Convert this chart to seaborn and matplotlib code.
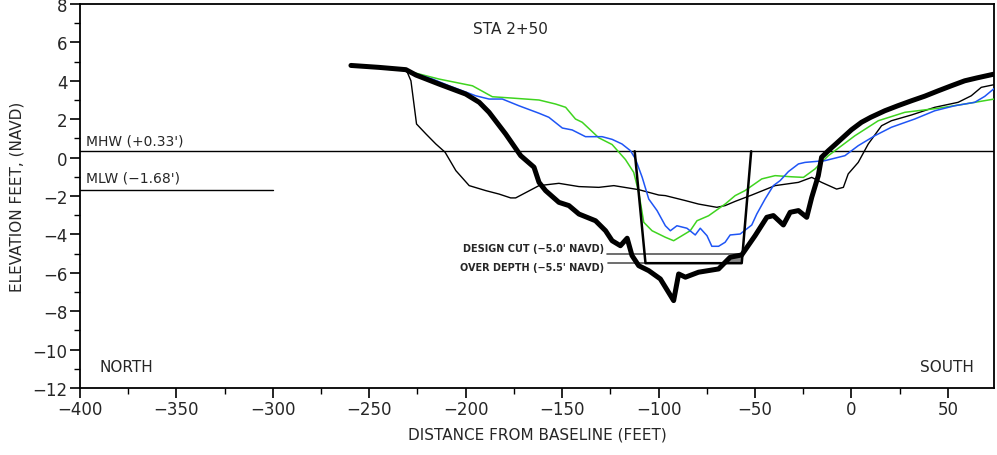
import matplotlib
matplotlib.use("Agg")
import matplotlib.pyplot as plt
import seaborn as sns
import pandas as pd
from matplotlib.ticker import MultipleLocator

# ---------------- data ----------------
# Current survey (thick black)
cur_x = [-259.5, -245, -231, -225.8, -213.8, -200, -193, -187.9, -179.3, -171.5, -164.6, -162, -158.6,
         -151.7, -146.5, -141.3, -132.7, -127.5, -124.1, -119.8, -116.3, -113.8, -110.3, -105.1,
         -99.1, -92.2, -89.6, -86.1, -79.3, -68.9, -62.9, -56.9, -50, -43.9, -40.5, -35.3, -31.8,
         -27.5, -23.2, -20.6, -17.2, -15.5, -12, -8, -3.4, 0, 5.2, 10, 17.3, 24, 31.1, 38, 45,
         52, 58.7, 65, 74]
cur_y = [4.8, 4.7, 4.58, 4.3, 3.83, 3.31, 2.88, 2.36, 1.23, 0.1, -0.5, -1.29, -1.72,
         -2.33, -2.5, -2.94, -3.29, -3.81, -4.33, -4.59, -4.2, -5.1, -5.63, -5.89,
         -6.32, -7.45, -6.06, -6.23, -5.97, -5.8, -5.19, -5.07, -4.07, -3.11, -3.02, -3.51, -2.85,
         -2.76, -3.11, -2.07, -0.94, 0.02, 0.36, 0.72, 1.14, 1.45, 1.84, 2.1, 2.44, 2.7, 2.96, 3.2, 3.48,
         3.75, 4.0, 4.15, 4.35]

# Earlier survey (thin black)
old_x = [-259.5, -245, -231, -228.4, -225.5, -220.6, -215.5, -210.7, -205.1, -198.2, -189.6, -182.7,
         -176.7, -174.1, -162, -151.7, -141.3, -131, -123.2, -110.3, -99.9, -96.5, -86.1, -79.3,
         -69.8, -65.5, -60.3, -51.7, -39.6, -27.5, -20.6, -15.5, -7.7, -4.2, -1.7, 3.5, 8.7, 15.6,
         20.7, 31.1, 43.2, 55.3, 62.1, 67.3, 74]
old_y = [4.8, 4.7, 4.61, 4.0, 1.75, 1.23, 0.71, 0.28, -0.68, -1.46, -1.72, -1.9,
         -2.1, -2.1, -1.46, -1.34, -1.51, -1.55, -1.46, -1.67, -1.95, -1.98, -2.24, -2.42,
         -2.59, -2.5, -2.28, -1.95, -1.46, -1.29, -1.03, -1.29, -1.64, -1.55, -0.85, -0.25, 0.71, 1.66,
         1.92, 2.22, 2.62, 2.88, 3.22, 3.66, 3.8]

# Green survey
grn_x = [-240, -231, -213.8, -196.5, -186.2, -175.9, -162, -153.4, -148.2, -143.1, -139.6, -131,
         -124.1, -117.2, -112.9, -110.3, -107.7, -103.4, -96.5, -92.2, -87.9, -83.6, -80.1, -74.1,
         -65.5, -60.3, -55.2, -46.5, -39.6, -31, -24.9, -18.9, -12, 1.8, 13.9, 27.7, 45, 58.7, 74]
grn_y = [4.6, 4.53, 4.09, 3.74, 3.17, 3.1, 3.0, 2.79, 2.62, 2.01, 1.84, 1.03,
         0.68, -0.1, -0.77, -1.81, -3.37, -3.81, -4.15, -4.33, -4.07, -3.81, -3.29, -3.03,
         -2.42, -1.98, -1.72, -1.11, -0.94, -1.0, -1.03, -0.59, 0.1, 1.14, 1.92, 2.36, 2.57, 2.79, 3.05]

# Blue survey
blu_x = [-251.7, -231, -217.2, -208.6, -194.8, -187.9, -181, -172.4, -162, -156.9, -149.9, -144.8,
         -137.9, -129.3, -124.1, -119, -114.6, -112, -108.5, -105.1, -100.8, -96.5, -93.9, -90.5,
         -85.3, -81, -78.4, -74.9, -72.4, -68.9, -65.5, -62.9, -57.7, -51.7, -49.1, -44.8, -40.5,
         -37, -32.7, -27.5, -24.1, -13.8, -3.4, 3.5, 12.1, 20.7, 32.8, 43.2, 53.5, 63.9, 69.1, 74]
blu_y = [4.73, 4.53, 4.09, 3.74, 3.22, 3.05, 3.05, 2.7, 2.31, 2.1, 1.54, 1.44,
         1.09, 1.09, 0.95, 0.71, 0.36, -0.07, -1.03, -2.16, -2.76, -3.55, -3.81, -3.55,
         -3.68, -4.03, -3.68, -4.07, -4.62, -4.62, -4.41, -4.03, -3.98, -3.51, -2.94, -2.16, -1.46,
         -1.2, -0.73, -0.33, -0.25, -0.16, 0.1, 0.62, 1.14, 1.58, 2.01, 2.44, 2.7, 2.88, 3.19, 3.6]

# Design template
tmpl_x = [-112.4, -106.8, -56.9, -52.0]
tmpl_y = [0.33, -5.5, -5.5, 0.33]

MHW = 0.33
MLW = -1.68
DESIGN_CUT = -5.0
OVER_DEPTH = -5.5
x_ticks = [-400, -350, -300, -250, -200, -150, -100, -50, 0, 50]
y_ticks = [-12, -10, -8, -6, -4, -2, 0, 2, 4, 6, 8]

# ---------------- plot ----------------
sns.set_theme(style="white")
plt.rcParams['font.family'] = ['DejaVu Sans']

fig = plt.figure(figsize=(9.97, 4.56), dpi=100)
ax = fig.add_axes([0.0802, 0.147, 0.917, 0.842])

def draw(x, y, color, lw, z):
    df = pd.DataFrame({"x": x, "y": y})
    sns.lineplot(data=df, x="x", y="y", sort=False, estimator=None, color=color,
                 linewidth=lw, ax=ax, zorder=z)

draw(old_x, old_y, "black", 1.0, 3)
draw(grn_x, grn_y, "#3fd41f", 1.1, 4)
draw(blu_x, blu_y, "#1f55f5", 1.1, 5)
draw(tmpl_x, tmpl_y, "black", 1.8, 6)
draw(cur_x, cur_y, "black", 3.6, 7)

# water levels
ax.axhline(MHW, color="black", lw=1.0, zorder=2)
ax.plot([-400, -300], [MLW, MLW], color="black", lw=1.0, zorder=2)

# design cut lines
ax.plot([-126.8, -56.3], [DESIGN_CUT, DESIGN_CUT], color="#555555", lw=1.2, zorder=2)
ax.plot([-126.3, -106.8], [OVER_DEPTH, OVER_DEPTH], color="#555555", lw=1.2, zorder=2)
ax.fill_between([-63.5, -56.6], [OVER_DEPTH, OVER_DEPTH], [DESIGN_CUT, DESIGN_CUT],
                color="#888888", zorder=2, lw=0)

ax.text(-128, -4.72, "DESIGN CUT (\u22125.0' NAVD)", fontsize=7, fontweight="bold",
        ha="right", va="center")
ax.text(-128, -5.72, "OVER DEPTH (\u22125.5' NAVD)", fontsize=7, fontweight="bold",
        ha="right", va="center")

ax.text(-397, 0.9, "MHW (+0.33')", fontsize=10, ha="left", va="center")
ax.text(-397, -1.05, "MLW (\u22121.68')", fontsize=10, ha="left", va="center")
ax.text(-177, 6.7, "STA 2+50", fontsize=11, ha="center", va="center")
ax.text(-390, -10.9, "NORTH", fontsize=11, ha="left", va="center")
ax.text(35.5, -10.9, "SOUTH", fontsize=11, ha="left", va="center")

ax.set_xlim(-400, 74)
ax.set_ylim(-12, 8)
ax.set_xticks(x_ticks)
ax.set_yticks(y_ticks)
ax.set_xticklabels([str(v).replace("-", "\u2212") for v in x_ticks], fontsize=12)
ax.set_yticklabels([str(v).replace("-", "\u2212") for v in y_ticks], fontsize=12)
ax.xaxis.set_minor_locator(MultipleLocator(25))
ax.yaxis.set_minor_locator(MultipleLocator(1))
ax.tick_params(which="major", direction="out", length=7, width=1.2, color="black",
               bottom=True, left=True, pad=2)
ax.tick_params(which="minor", direction="out", length=4, width=1.0, color="black",
               bottom=True, left=True)
ax.set_xlabel("DISTANCE FROM BASELINE (FEET)", fontsize=11, labelpad=6)
ax.set_ylabel("ELEVATION FEET, (NAVD)", fontsize=11, labelpad=6)
for s in ax.spines.values():
    s.set_color("black")
    s.set_linewidth(1.3)
ax.grid(False)

fig.savefig("out.png", dpi=100)
